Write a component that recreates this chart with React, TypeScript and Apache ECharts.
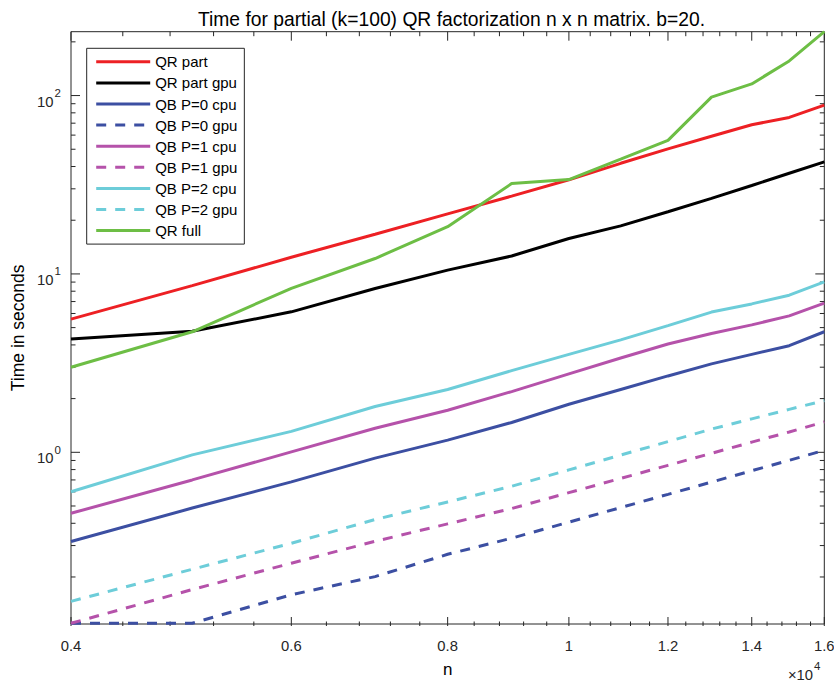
import React, { useEffect, useRef } from "react";
import * as echarts from "echarts";

const FONT = "'Liberation Sans', Arial, Helvetica, sans-serif";

const nValues = [4000, 5000, 6000, 7000, 8000, 9000, 10000, 11000, 12000, 13000, 14000, 15000, 16000];
const qrPart = [5.58, 8.6, 12.4, 16.7, 21.7, 27.3, 33.7, 41.7, 50.2, 59.1, 68.6, 75.4, 88.4];
const qrPartGpu = [4.32, 4.77, 6.13, 8.28, 10.5, 12.6, 15.8, 18.6, 22.3, 26.5, 31.3, 36.7, 42.5];
const qbP0cpu = [0.316, 0.487, 0.683, 0.928, 1.17, 1.47, 1.86, 2.25, 2.68, 3.13, 3.54, 3.96, 4.74];
const qbP0gpu = [0.11, 0.11, 0.159, 0.201, 0.268, 0.33, 0.406, 0.49, 0.581, 0.681, 0.788, 0.902, 1.026];
const qbP1cpu = [0.455, 0.7, 1.005, 1.365, 1.72, 2.19, 2.75, 3.38, 4.05, 4.63, 5.18, 5.82, 6.86];
const qbP1gpu = [0.11, 0.17, 0.239, 0.317, 0.397, 0.484, 0.594, 0.714, 0.845, 0.987, 1.14, 1.3, 1.48];
const qbP2cpu = [0.601, 0.967, 1.31, 1.805, 2.25, 2.87, 3.54, 4.27, 5.13, 6.11, 6.79, 7.6, 9.02];
const qbP2gpu = [0.146, 0.221, 0.309, 0.42, 0.527, 0.645, 0.797, 0.965, 1.148, 1.35, 1.54, 1.74, 1.95];
const qrFull = [3.0, 4.74, 8.3, 12.2, 18.4, 32.1, 33.8, 44.0, 56.1, 98.0, 116.2, 156.3, 228];

const xTickValues = [4000, 6000, 8000, 10000, 12000, 14000, 16000];
const xTickLabels = ["0.4", "0.6", "0.8", "1", "1.2", "1.4", "1.6"];
const yTickValues = [1, 10, 100];
const yTickExponents = ["0", "1", "2"];

const seriesDefs = [
  { name: "QR part", data: qrPart, color: "#ED2024", dash: false },
  { name: "QR part gpu", data: qrPartGpu, color: "#000000", dash: false },
  { name: "QB P=0 cpu", data: qbP0cpu, color: "#3C4FA2", dash: false },
  { name: "QB P=0 gpu", data: qbP0gpu, color: "#3C4FA2", dash: true },
  { name: "QB P=1 cpu", data: qbP1cpu, color: "#B552AA", dash: false },
  { name: "QB P=1 gpu", data: qbP1gpu, color: "#B552AA", dash: true },
  { name: "QB P=2 cpu", data: qbP2cpu, color: "#6DCDD9", dash: false },
  { name: "QB P=2 gpu", data: qbP2gpu, color: "#6DCDD9", dash: true },
  { name: "QR full", data: qrFull, color: "#6DBE45", dash: false },
];

const GRID = { left: 71, top: 31.7, width: 753.3, height: 594.3 };
const AXIS_COLOR = "#262626";
const LINE_W = 3;

export default function App() {
  const ref = useRef<HTMLDivElement>(null);
  useEffect(() => {
    if (!ref.current) return;
    const chart = echarts.init(ref.current, null, { renderer: "svg" });
    const option: any = {
      animation: false,
      backgroundColor: "#ffffff",
      textStyle: { fontFamily: FONT },
      title: {
        text: "Time for partial (k=100) QR factorization n x n matrix. b=20.",
        left: 446.5,
        textAlign: "center",
        top: 4.5,
        textStyle: { fontSize: 19.3, fontWeight: "normal", color: "#000", fontFamily: FONT },
      },
      grid: { ...GRID, show: true, borderColor: AXIS_COLOR, borderWidth: 1, backgroundColor: "#fff" },
      legend: {
        orient: "vertical",
        left: 86.7,
        top: 48.3,
        itemWidth: 54,
        itemHeight: 15,
        itemGap: 6.1,
        padding: [6, 7, 6, 8],
        borderColor: AXIS_COLOR,
        borderWidth: 1,
        backgroundColor: "#fff",
        selectedMode: false,
        itemStyle: { opacity: 0 },
        lineStyle: { width: LINE_W },
        textStyle: { fontSize: 15, color: "#000", fontFamily: FONT },
        data: seriesDefs.map((s) => s.name),
      },
      xAxis: {
        type: "log",
        logBase: 10,
        min: 4000,
        max: 16000,
        name: "n",
        nameLocation: "middle",
        nameGap: 37,
        nameTextStyle: { fontSize: 17, color: "#000", fontFamily: FONT },
        axisLine: { show: false },
        axisTick: { show: false },
        axisLabel: { show: false },
        splitLine: { show: false },
      },
      yAxis: {
        type: "log",
        logBase: 10,
        min: 0.109,
        max: 228,
        name: "Time in seconds",
        nameLocation: "middle",
        nameGap: 44,
        nameTextStyle: { fontSize: 17.5, color: "#000", fontFamily: FONT },
        axisLine: { show: false },
        axisTick: { show: false },
        axisLabel: { show: false },
        splitLine: { show: false },
      },
      series: seriesDefs.map((s) => ({
        name: s.name,
        type: "line",
        symbol: "none",
        showSymbol: false,
        color: s.color,
        lineStyle: { color: s.color, width: LINE_W, type: s.dash ? [10, 9] : "solid" },
        data: nValues.map((n, i) => [n, s.data[i]]),
        z: 3,
      })),
    };
    chart.setOption(option);

    const L = GRID.left;
    const R = GRID.left + GRID.width;
    const T = GRID.top;
    const B = GRID.top + GRID.height;
    const tickStyle = { stroke: AXIS_COLOR, lineWidth: 1 };
    const elems: any[] = [];
    const px = (v: number) => chart.convertToPixel({ xAxisIndex: 0 }, v) as number;
    const py = (v: number) => chart.convertToPixel({ yAxisIndex: 0 }, v) as number;

    // x ticks
    const xMinor: number[] = [];
    for (let v = 4400; v < 16000; v += 400) {
      if (v % 2000 !== 0) xMinor.push(v);
    }
    const addX = (v: number, len: number) => {
      const x = px(v);
      elems.push({ type: "line", silent: true, z: 2, shape: { x1: x, y1: B, x2: x, y2: B - len }, style: tickStyle });
      elems.push({ type: "line", silent: true, z: 2, shape: { x1: x, y1: T, x2: x, y2: T + len }, style: tickStyle });
    };
    xMinor.forEach((v) => addX(v, 4.5));
    xTickValues.forEach((v, i) => {
      addX(v, 9);
      elems.push({
        type: "text",
        silent: true,
        x: px(v),
        y: 646,
        style: { text: xTickLabels[i], fontSize: 14.8, fill: "#262626", align: "center", verticalAlign: "middle", fontFamily: FONT },
      });
    });

    // y ticks
    const addY = (v: number, len: number) => {
      const y = py(v);
      elems.push({ type: "line", silent: true, z: 2, shape: { x1: L, y1: y, x2: L + len, y2: y }, style: tickStyle });
      elems.push({ type: "line", silent: true, z: 2, shape: { x1: R, y1: y, x2: R - len, y2: y }, style: tickStyle });
    };
    for (let d = -1; d <= 2; d++) {
      for (let m = 2; m <= 9; m++) {
        const v = m * Math.pow(10, d);
        if (v >= 0.109 && v <= 228) addY(v, 4.5);
      }
    }
    yTickValues.forEach((v, i) => {
      addY(v, 9);
      const y = py(v);
      elems.push({
        type: "text",
        silent: true,
        x: 53.5,
        y: y + 6,
        style: { text: "10", fontSize: 14.8, fill: "#262626", align: "right", verticalAlign: "middle", fontFamily: FONT },
      });
      elems.push({
        type: "text",
        silent: true,
        x: 54.5,
        y: y - 2.5,
        style: { text: yTickExponents[i], fontSize: 11.5, fill: "#262626", align: "left", verticalAlign: "middle", fontFamily: FONT },
      });
    });

    // x exponent label
    elems.push({
      type: "text",
      silent: true,
      x: 813,
      y: 675,
      style: { text: "×10", fontSize: 14.8, fill: "#262626", align: "right", verticalAlign: "middle", fontFamily: FONT },
    });
    elems.push({
      type: "text",
      silent: true,
      x: 814,
      y: 666,
      style: { text: "4", fontSize: 11.5, fill: "#262626", align: "left", verticalAlign: "middle", fontFamily: FONT },
    });

    chart.setOption({ graphic: elems });
    return () => chart.dispose();
  }, []);

  return (
    <div
      ref={ref}
      style={{ position: "fixed", left: 0, top: 0, width: 834, height: 683, background: "#fff" }}
    />
  );
}
